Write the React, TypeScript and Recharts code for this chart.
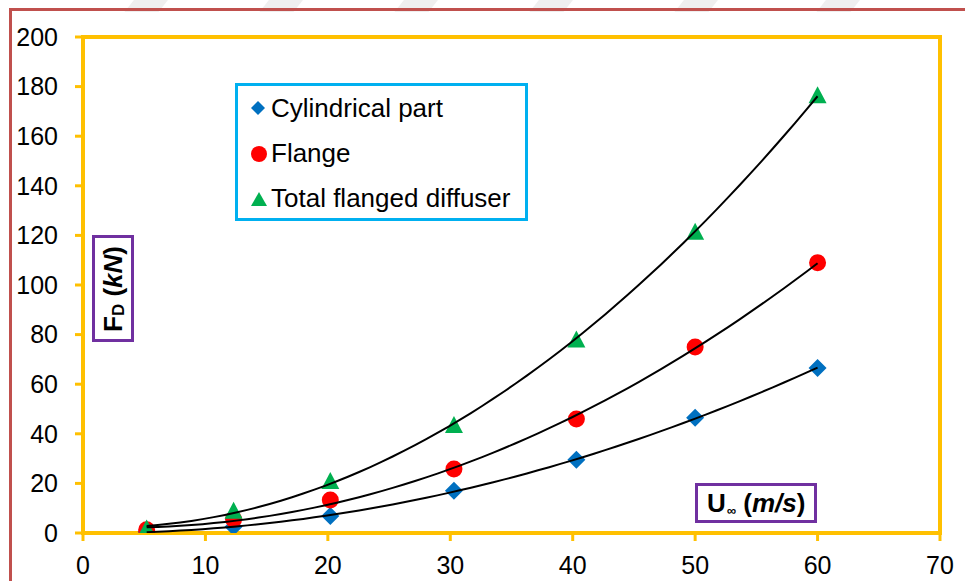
import React from "react";
import {
  ComposedChart,
  Scatter,
  XAxis,
  YAxis,
  ReferenceArea,
} from "recharts";

// Free-stream velocity (m/s) and drag force (kN) for each part
const speeds = [5.2, 12.3, 20.2, 30.3, 40.3, 50, 60];
const cylindrical = [0.5, 2.5, 6.9, 17, 29.5, 46.5, 66.5];
const flange = [1.3, 5.5, 13.3, 25.8, 46, 75, 109];
const totalDiffuser = [1.8, 9, 21, 43.5, 78, 121.5, 176.5];

const xTicks = [0, 10, 20, 30, 40, 50, 60, 70];
const yTicks = [0, 20, 40, 60, 80, 100, 120, 140, 160, 180, 200];

const FONT = '"Liberation Sans", Arial, sans-serif';
const GOLD = "#FFC000";
const BLUE = "#0070C0";
const RED = "#FF0000";
const GREEN = "#00B050";

const toPoints = (ys: number[]) => speeds.map((x, i) => ({ x, y: ys[i] }));

// 2nd order polynomial trendline (least squares), like Excel's
function quadTrend(ys: number[]) {
  const n = speeds.length;
  let s1 = 0, s2 = 0, s3 = 0, s4 = 0, t0 = 0, t1 = 0, t2 = 0;
  speeds.forEach((x, i) => {
    const y = ys[i];
    s1 += x; s2 += x * x; s3 += x * x * x; s4 += x * x * x * x;
    t0 += y; t1 += x * y; t2 += x * x * y;
  });
  const det3 = (m: number[][]) =>
    m[0][0] * (m[1][1] * m[2][2] - m[1][2] * m[2][1]) -
    m[0][1] * (m[1][0] * m[2][2] - m[1][2] * m[2][0]) +
    m[0][2] * (m[1][0] * m[2][1] - m[1][1] * m[2][0]);
  const A = [[s4, s3, s2], [s3, s2, s1], [s2, s1, n]];
  const D = det3(A);
  const a = det3([[t2, s3, s2], [t1, s2, s1], [t0, s1, n]]) / D;
  const b = det3([[s4, t2, s2], [s3, t1, s1], [s2, t0, n]]) / D;
  const c = det3([[s4, s3, t2], [s3, s2, t1], [s2, s1, t0]]) / D;
  const lo = speeds[0];
  const hi = speeds[speeds.length - 1];
  const steps = 60;
  const pts = [];
  for (let i = 0; i <= steps; i++) {
    const x = lo + ((hi - lo) * i) / steps;
    pts.push({ x, y: a * x * x + b * x + c });
  }
  return pts;
}

const Diamond = ({ cx, cy }: any) => (
  <path d={`M${cx},${cy - 9} L${cx + 9},${cy} L${cx},${cy + 9} L${cx - 9},${cy} Z`} fill={BLUE} />
);
const Dot = ({ cx, cy }: any) => <circle cx={cx} cy={cy} r={8.5} fill={RED} />;
const Triangle = ({ cx, cy }: any) => (
  <path d={`M${cx},${cy - 9} L${cx + 9},${cy + 8} L${cx - 9},${cy + 8} Z`} fill={GREEN} />
);
const NoMark = () => <g />;

const legendItems = [
  { label: "Cylindrical part", icon: <path d="M7,0 L14,7 L7,14 L0,7 Z" fill={BLUE} /> },
  { label: "Flange", icon: <circle cx={8} cy={8} r={8} fill={RED} /> },
  { label: "Total flanged diffuser", icon: <path d="M8,1 L16,15 L0,15 Z" fill={GREEN} /> },
];

function LegendBox() {
  return (
    <div
      style={{
        position: "absolute", left: 235, top: 83, width: 293, height: 138,
        boxSizing: "border-box", border: "3px solid #00B0F0", background: "#fff",
        fontFamily: FONT, fontSize: 26, color: "#000", paddingTop: 0,
      }}
    >
      {legendItems.map((it) => (
        <div key={it.label} style={{ height: 45, display: "flex", alignItems: "center", paddingLeft: 13 }}>
          <svg width={17} height={16} style={{ marginRight: 3 }}>{it.icon}</svg>
          <span style={{ whiteSpace: "nowrap" }}>{it.label}</span>
        </div>
      ))}
    </div>
  );
}

const stripes = [130, 265, 400, 535, 680, 822];

export default function App() {
  const boxTitle: React.CSSProperties = {
    position: "absolute", boxSizing: "border-box", border: "3px solid #7030A0",
    background: "#fff", fontFamily: FONT, fontWeight: "bold", fontSize: 26, color: "#000",
  };
  return (
    <div style={{ position: "absolute", left: 0, top: 0, width: 965, height: 581, background: "#fff", overflow: "hidden" }}>
      {stripes.map((x) => (
        <div key={x} style={{ position: "absolute", left: x, top: -2, width: 34, height: 14, background: "#efefef", transform: "skewX(-38deg)" }} />
      ))}
      <div style={{ position: "absolute", left: 9, top: 8, width: 1000, height: 600, borderLeft: "3px solid #C0504D", borderTop: "3px solid #C0504D" }} />
      <div style={{ position: "absolute", left: 0, top: 0 }}>
        <ComposedChart width={965} height={581} margin={{ top: 37, right: 25, bottom: 0, left: 0 }}>
          <XAxis
            type="number" dataKey="x" domain={[0, 70]} ticks={xTicks} height={48}
            axisLine={{ stroke: GOLD, strokeWidth: 4 }} tickLine={{ stroke: GOLD, strokeWidth: 3 }}
            tickSize={8} tickMargin={15}
            tick={{ fill: "#000", fontSize: 25, fontFamily: FONT }}
            allowDataOverflow
          />
          <YAxis
            type="number" dataKey="y" domain={[0, 200]} ticks={yTicks} width={83}
            axisLine={{ stroke: GOLD, strokeWidth: 4 }} tickLine={{ stroke: GOLD, strokeWidth: 3 }}
            tickSize={8} tickMargin={17}
            tick={{ fill: "#000", fontSize: 25, fontFamily: FONT }}
            allowDataOverflow
          />
          <ReferenceArea x1={0} x2={70} y1={0} y2={200} fill="none" fillOpacity={0} stroke={GOLD} strokeWidth={4} ifOverflow="visible" />
          <Scatter name="Cylindrical part" data={toPoints(cylindrical)} shape={Diamond} isAnimationActive={false} />
          <Scatter name="Flange" data={toPoints(flange)} shape={Dot} isAnimationActive={false} />
          <Scatter name="Total flanged diffuser" data={toPoints(totalDiffuser)} shape={Triangle} isAnimationActive={false} />
          <Scatter data={quadTrend(cylindrical)} shape={NoMark} line={{ stroke: "#000", strokeWidth: 2 }} lineType="joint" isAnimationActive={false} />
          <Scatter data={quadTrend(flange)} shape={NoMark} line={{ stroke: "#000", strokeWidth: 2 }} lineType="joint" isAnimationActive={false} />
          <Scatter data={quadTrend(totalDiffuser)} shape={NoMark} line={{ stroke: "#000", strokeWidth: 2 }} lineType="joint" isAnimationActive={false} />
        </ComposedChart>
      </div>
      <LegendBox />
      <div style={{ ...boxTitle, left: 92, top: 235, width: 42, height: 107 }}>
        <div
          style={{
            position: "absolute", left: "50%", top: "50%", width: 101, height: 36,
            transform: "translate(-50%, -50%) rotate(-90deg)",
            display: "flex", alignItems: "center", justifyContent: "center", whiteSpace: "nowrap",
          }}
        >
          F<span style={{ fontSize: 17, position: "relative", top: 6 }}>D</span>&nbsp;(<i>kN</i>)
        </div>
      </div>
      <div style={{ ...boxTitle, left: 695, top: 483, width: 122, height: 40, display: "flex", alignItems: "center", paddingLeft: 9, whiteSpace: "nowrap" }}>
        U<span style={{ fontSize: 13, position: "relative", top: 7, marginLeft: 1 }}>∞</span>&nbsp;(<i>m/s</i>)
      </div>
    </div>
  );
}
